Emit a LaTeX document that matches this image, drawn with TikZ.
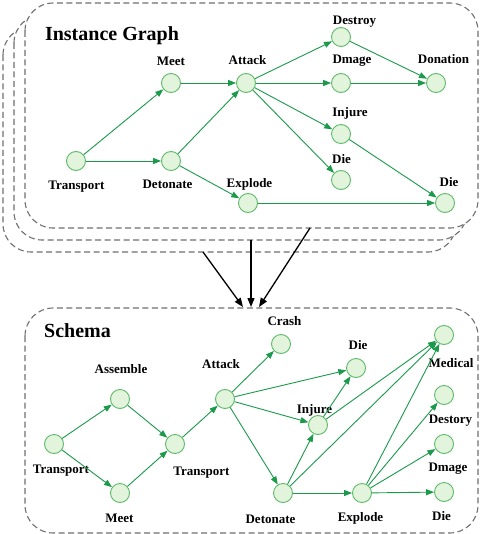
\documentclass[tikz,border=0pt]{standalone}
\usepackage{fontspec}
\setmainfont{Liberation Serif}
\usetikzlibrary{arrows.meta}
\definecolor{nfill}{HTML}{E2F4DC}
\definecolor{ndraw}{HTML}{5DBB6A}
\definecolor{edgec}{HTML}{1A9A4A}
\definecolor{boxc}{HTML}{707070}
\begin{document}
\begin{tikzpicture}[x=1pt,y=-1pt,
 ev/.style={circle,draw=ndraw,fill=nfill,line width=0.9pt,minimum size=19pt,inner sep=0pt},
 lab/.style={font=\bfseries\fontsize{13}{13}\selectfont,inner sep=0pt,anchor=base},
 ttl/.style={font=\bfseries\fontsize{20}{20}\selectfont,inner sep=0pt,anchor=base},
 ge/.style={draw=edgec,line width=0.9pt,-{Triangle[length=8pt,width=6pt]}},
 frame/.style={draw=boxc,dash pattern=on 6pt off 3.5pt,line width=1.1pt,rounded corners=28pt},
 flow/.style={draw=black,line width=1.3pt,-{Triangle[length=9pt,width=7pt]}}]
\useasboundingbox (0,0) rectangle (480,534);
% instance graph stack
\path[frame,fill=white] (3,27) rectangle (456,252);
\path[frame,fill=white] (14,15) rectangle (467,240);
\path[frame,fill=white] (25,3) rectangle (478,228);
% schema box
\path[frame,fill=white] (25,308) rectangle (478,533);
% flow arrows
\coordinate (s1) at (203,252);
\coordinate (s2) at (251,240);
\coordinate (s3) at (310,228);
\coordinate (e1) at (243,307);
\coordinate (e2) at (251,307);
\coordinate (e3) at (259,307);
\draw[flow] (s1) -- (e1);
\draw[flow] (s2) -- (e2);
\draw[flow] (s3) -- (e3);
% ---------- instance graph ----------
\node[ttl] (tI) at (112,41) {Instance Graph};
\node[ev] (iT) at (76,161) {};
\node[ev] (iMe) at (171,83) {};
\node[ev] (iDe) at (171,161) {};
\node[ev] (iAt) at (246,83) {};
\node[ev] (iEx) at (248,203) {};
\node[ev] (iDs) at (341,37) {};
\node[ev] (iDm) at (341,83) {};
\node[ev] (iDo) at (436,83) {};
\node[ev] (iIn) at (341,134) {};
\node[ev] (iDi) at (341,180) {};
\node[ev] (iDr) at (445,203) {};
\node[lab] (liT) at (76.5,190) {Transport};
\node[lab] (liMe) at (171,66) {Meet};
\node[lab] (liDe) at (167.5,189) {Detonate};
\node[lab] (liAt) at (247.5,65) {Attack};
\node[lab] (liEx) at (249.5,188) {Explode};
\node[lab] (liDs) at (354.5,25) {Destroy};
\node[lab] (liDm) at (352,64) {Dmage};
\node[lab] (liDo) at (443.5,64) {Donation};
\node[lab] (liIn) at (350,117) {Injure};
\node[lab] (liDi) at (341.5,164) {Die};
\node[lab] (liDr) at (449,187) {Die};
\draw[ge] (iT) -- (iMe);
\draw[ge] (iT) -- (iDe);
\draw[ge] (iMe) -- (iAt);
\draw[ge] (iDe) -- (iAt);
\draw[ge] (iDe) -- (iEx);
\draw[ge] (iAt) -- (iDs);
\draw[ge] (iAt) -- (iDm);
\draw[ge] (iAt) -- (iIn);
\draw[ge] (iAt) -- (iDi);
\draw[ge] (iDs) -- (iDo);
\draw[ge] (iDm) -- (iDo);
\draw[ge] (iIn) -- (iDr);
\draw[ge] (iEx) -- (iDr);
% ---------- schema ----------
\node[ttl] (tS) at (77.5,337) {Schema};
\node[ev] (sT1) at (54,444) {};
\node[ev] (sAs) at (120,399) {};
\node[ev] (sMe) at (120,493) {};
\node[ev] (sT2) at (175,444) {};
\node[ev] (sAt) at (225,399) {};
\node[ev] (sCr) at (281,344) {};
\node[ev] (sDa) at (356,368) {};
\node[ev] (sIn) at (318,425) {};
\node[ev] (sDe) at (283,493) {};
\node[ev] (sEx) at (362,493) {};
\node[ev] (sMd) at (444,335) {};
\node[ev] (sDs) at (444,395) {};
\node[ev] (sDm) at (444,444) {};
\node[ev] (sDb) at (444,492) {};
\node[lab] (lsT1) at (61,473) {Transport};
\node[lab] (lsAs) at (121,373) {Assemble};
\node[lab] (lsMe) at (119.5,522) {Meet};
\node[lab] (lsT2) at (201.5,475) {Transport};
\node[lab] (lsAt) at (221,368) {Attack};
\node[lab] (lsCr) at (284.5,325) {Crash};
\node[lab] (lsDa) at (358,349) {Die};
\node[lab] (lsIn) at (314.5,413) {Injure};
\node[lab] (lsDe) at (270.5,523) {Detonate};
\node[lab] (lsEx) at (360.5,521) {Explode};
\node[lab] (lsMd) at (451,367) {Medical};
\node[lab] (lsDs) at (450.5,423) {Destory};
\node[lab] (lsDm) at (448,471) {Dmage};
\node[lab] (lsDb) at (441.5,520) {Die};
\draw[ge] (sT1) -- (sAs);
\draw[ge] (sT1) -- (sMe);
\draw[ge] (sAs) -- (sT2);
\draw[ge] (sMe) -- (sT2);
\draw[ge] (sT2) -- (sAt);
\draw[ge] (sAt) -- (sCr);
\draw[ge] (sAt) -- (sDa);
\draw[ge] (sAt) -- (sIn);
\draw[ge] (sAt) -- (sDe);
\draw[ge] (sDe) -- (sIn);
\draw[ge] (sDe) -- (sMd);
\draw[ge] (sDe) -- (sEx);
\draw[ge] (sIn) -- (sDa);
\draw[ge] (sIn) -- (sMd);
\draw[ge] (sEx) -- (sMd);
\draw[ge] (sEx) -- (sDs);
\draw[ge] (sEx) -- (sDm);
\draw[ge] (sEx) -- (sDb);
\end{tikzpicture}
\end{document}
